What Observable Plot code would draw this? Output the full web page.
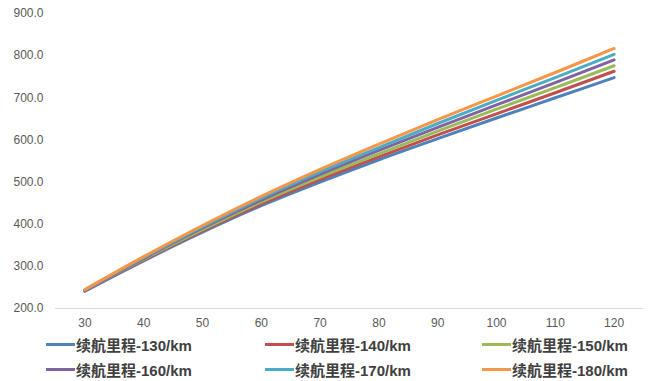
<!DOCTYPE html>
<html>
<head>
<meta charset="utf-8">
<script src="https://cdn.jsdelivr.net/npm/d3@7"></script>
<script src="https://cdn.jsdelivr.net/npm/@observablehq/plot@0.6"></script>
<style>
  body { margin: 0; background: #fff; font-family: "Liberation Sans", Arial, sans-serif; }
  #wrap { width: 651px; height: 381px; position: relative; overflow: hidden; }
  .legend { position: absolute; left: 46px; top: 332px; display: grid; grid-template-columns: 219px 217px 160px; grid-auto-rows: 25px; }
  .item { display: flex; align-items: center; font-family: "Liberation Sans", "Noto Sans CJK SC", sans-serif; font-size: 15px; font-weight: bold; color: #404040; white-space: nowrap; }
  .sw { width: 29px; height: 3px; margin-right: 1px; }
</style>
</head>
<body>
<div id="wrap"></div>
<script>
const speeds = [30, 40, 50, 60, 70, 80, 90, 100, 110, 120];
const seriesNames = ["续航里程-130/km", "续航里程-140/km", "续航里程-150/km", "续航里程-160/km", "续航里程-170/km", "续航里程-180/km"];
const range130 = [241, 313, 381, 444, 500, 553, 603, 652, 700, 748];
const range140 = [242, 315, 384, 448, 506, 560, 612, 662, 712, 763];
const range150 = [243, 317, 387, 453, 512, 567, 621, 673, 724, 776];
const range160 = [243, 319, 391, 457, 518, 575, 630, 683, 736, 790];
const range170 = [244, 321, 394, 462, 524, 582, 639, 694, 748, 803];
const range180 = [245, 323, 397, 466, 530, 590, 648, 704, 760, 817];
const yTicks = [200, 300, 400, 500, 600, 700, 800, 900];
const colors = ["#4F81BD", "#C0504D", "#9BBB59", "#8064A2", "#4BACC6", "#F79646"];

const allSeries = [range130, range140, range150, range160, range170, range180];
const data = [];
allSeries.forEach((vals, i) => speeds.forEach((s, j) => data.push({speed: s, value: vals[j], series: seriesNames[i]})));

const chart = Plot.plot({
  width: 651,
  height: 332,
  marginTop: 13,
  marginBottom: 24,
  marginLeft: 55,
  marginRight: 8,
  style: { fontFamily: "'Liberation Sans', Arial, sans-serif", fontSize: "12px", color: "#595959", background: "#fff" },
  x: { domain: [25, 125], ticks: speeds, tickSize: 0, tickPadding: 10, label: null, tickFormat: d => String(d) },
  y: { domain: [200, 900], ticks: yTicks, tickSize: 0, tickPadding: 12, label: null, tickFormat: d => d.toFixed(1) },
  color: { domain: seriesNames, range: colors },
  marks: [
    Plot.ruleY([200], { stroke: "#d9d9d9", strokeWidth: 1 }),
    Plot.line(data, { x: "speed", y: "value", z: "series", stroke: "series", strokeWidth: 3, curve: "catmull-rom", strokeLinecap: "round" })
  ]
});
document.getElementById("wrap").appendChild(chart);

const legend = document.createElement("div");
legend.className = "legend";
seriesNames.forEach((n, i) => {
  const it = document.createElement("div");
  it.className = "item";
  const sw = document.createElement("span");
  sw.className = "sw";
  sw.style.background = colors[i];
  it.appendChild(sw);
  it.appendChild(document.createTextNode(n));
  legend.appendChild(it);
});
document.getElementById("wrap").appendChild(legend);
</script>
</body>
</html>
